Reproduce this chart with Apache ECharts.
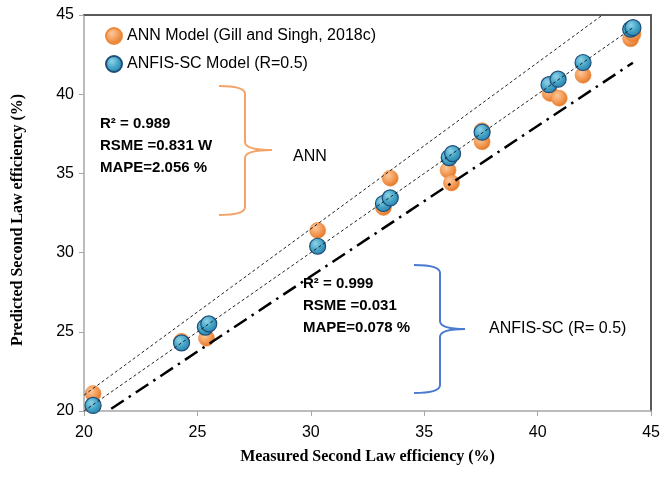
<!DOCTYPE html>
<html>
<head>
<meta charset="utf-8">
<script src="https://cdn.jsdelivr.net/npm/echarts@6/dist/echarts.min.js"></script>
<style>html,body{margin:0;padding:0;background:#fff}#c{width:663px;height:494px}</style>
</head>
<body>
<div id="c"></div>
<script>
// ---- data ----
const annMeasured  = [20.4, 24.3, 25.4, 30.3, 33.2, 33.5, 36.05, 36.2, 37.55, 37.55, 40.55, 40.95, 42.0, 44.1, 44.2];
const annPredicted = [21.1, 24.4, 24.6, 31.4, 32.85, 34.7, 35.2, 34.4, 37.0, 37.7, 40.05, 39.75, 41.2, 43.5, 43.8];
const anfisMeasured  = [20.4, 24.3, 25.35, 25.5, 30.3, 33.2, 33.5, 36.1, 36.25, 37.55, 40.5, 40.9, 42.0, 44.1, 44.2];
const anfisPredicted = [20.35, 24.3, 25.3, 25.5, 30.4, 33.1, 33.45, 36.0, 36.25, 37.6, 40.6, 40.95, 42.0, 44.1, 44.2];
const idealLine = [[20, 20], [44.2, 44.2]];
const upperLine = [[20, 21], [42.857, 45]];
const lowerLine = [[21.2, 20.14], [44.2, 41.99]];
const xTicks = [20, 25, 30, 35, 40, 45];
const yTicks = [20, 25, 30, 35, 40, 45];
const seriesNames = ['ANN Model (Gill and Singh, 2018c)', 'ANFIS-SC Model (R=0.5)'];

const zip = (a, b) => a.map((v, i) => [v, b[i]]);
const chart = echarts.init(document.getElementById('c'));

const orangeFill = {type:'radial', x:0.38, y:0.35, r:0.7, colorStops:[{offset:0,color:'#fbc89c'},{offset:0.55,color:'#f39a55'},{offset:1,color:'#e0721f'}]};
const blueFill = {type:'radial', x:0.38, y:0.35, r:0.7, colorStops:[{offset:0,color:'#8fd3e8'},{offset:0.55,color:'#42a3c6'},{offset:1,color:'#2a7ea8'}]};

function brace(x0, xv, tip, y0, ym, y1, c, color) {
  const st = {stroke: color, lineWidth: 2, fill: null};
  return {
    type: 'group', z: 100,
    children: [
      {type:'bezierCurve', shape:{x1:x0, y1:y0, x2:xv, y2:y0+c, cpx1:xv, cpy1:y0}, style:st},
      {type:'line', shape:{x1:xv, y1:y0+c, x2:xv, y2:ym-c}, style:st},
      {type:'bezierCurve', shape:{x1:xv, y1:ym-c, x2:tip, y2:ym, cpx1:xv, cpy1:ym}, style:st},
      {type:'bezierCurve', shape:{x1:tip, y1:ym, x2:xv, y2:ym+c, cpx1:xv, cpy1:ym}, style:st},
      {type:'line', shape:{x1:xv, y1:ym+c, x2:xv, y2:y1-c}, style:st},
      {type:'bezierCurve', shape:{x1:xv, y1:y1-c, x2:x0, y2:y1, cpx1:xv, cpy1:y1}, style:st}
    ]
  };
}
const sans = '"Liberation Sans", Arial, sans-serif';
function txt(t, x, y, bold, size) {
  return {type:'text', x:x, y:y, z:100, style:{text:t, font:(bold?'bold ':'') + size + 'px ' + sans, fill:'#000', verticalAlign:'middle', align:'left'}};
}

chart.setOption({
  animation: false,
  backgroundColor: '#fff',
  grid: {left: 84, right: 9, top: 15, bottom: 83},
  legend: {
    data: seriesNames, orient: 'vertical', left: 100, top: 22, itemGap: 10,
    itemWidth: 16, itemHeight: 16, icon: 'circle',
    textStyle: {fontFamily: sans, fontSize: 16, color: '#000'}
  },
  xAxis: [{
    type: 'value', min: xTicks[0], max: xTicks[xTicks.length-1], interval: 5,
    name: 'Measured Second Law efficiency (%)', nameLocation: 'middle', nameGap: 38,
    nameTextStyle: {fontFamily: '"Liberation Serif", serif', fontWeight: 'bold', fontSize: 16, color: '#000'},
    axisLine: {show: true, lineStyle: {color: '#a6a6a6', width: 1.5}},
    axisTick: {show: true, length: 5, lineStyle: {color: '#a6a6a6'}},
    axisLabel: {fontFamily: sans, fontSize: 16, color: '#000', margin: 14},
    splitLine: {show: false}
  }, {
    type: 'value', position: 'top', min: 20, max: 45,
    axisLine: {show: true, onZero: false, lineStyle: {color: '#595959', width: 2}},
    axisTick: {show: false}, axisLabel: {show: false}, splitLine: {show: false}
  }],
  yAxis: [{
    type: 'value', min: yTicks[0], max: yTicks[yTicks.length-1], interval: 5,
    name: 'Predicted Second Law efficiency (%)', nameLocation: 'middle', nameGap: 58,
    nameTextStyle: {fontFamily: '"Liberation Serif", serif', fontWeight: 'bold', fontSize: 16, color: '#000', padding: [0, 14, 0, 0]},
    axisLine: {show: true, lineStyle: {color: '#a6a6a6', width: 1.5}},
    axisTick: {show: true, length: 5, lineStyle: {color: '#a6a6a6'}},
    axisLabel: {fontFamily: sans, fontSize: 16, color: '#000', margin: 10},
    splitLine: {show: false}
  }, {
    type: 'value', position: 'right', min: 20, max: 45,
    axisLine: {show: true, onZero: false, lineStyle: {color: '#595959', width: 2}},
    axisTick: {show: false}, axisLabel: {show: false}, splitLine: {show: false}
  }],
  series: [
    {name: seriesNames[0], type: 'scatter', data: zip(annMeasured, annPredicted), symbolSize: 16, z: 3,
     itemStyle: {color: orangeFill, borderColor: '#ee8a3e', borderWidth: 0.6, opacity: 1}},
    {name: seriesNames[1], type: 'scatter', data: zip(anfisMeasured, anfisPredicted), symbolSize: 16, z: 4,
     itemStyle: {color: blueFill, borderColor: '#1f4e79', borderWidth: 1.2, opacity: 1}},
    {type: 'line', data: idealLine, showSymbol: false, z: 5, silent: true,
     lineStyle: {color: '#222', width: 1, type: [3, 2.5]}},
    {type: 'line', data: upperLine, showSymbol: false, z: 5, silent: true,
     lineStyle: {color: '#222', width: 1, type: [3, 2.5]}},
    {type: 'line', data: lowerLine, showSymbol: false, z: 5, silent: true,
     lineStyle: {color: '#000', width: 2.5, type: [15, 6, 2.5, 6]}}
  ],
  graphic: [
    brace(219, 245, 272, 86, 150, 215, 8, '#f4a468'),
    brace(414, 440, 465, 265, 329, 393, 8, '#4a7bd0'),
    txt('R² = 0.989', 100, 124, true, 15),
    txt('RSME =0.831 W', 100, 146, true, 15),
    txt('MAPE=2.056 %', 100, 168, true, 15),
    txt('ANN', 293, 157, false, 16),
    txt('R² = 0.999', 303, 284, true, 15),
    txt('RSME =0.031', 303, 306, true, 15),
    txt('MAPE=0.078 %', 303, 328, true, 15),
    txt('ANFIS-SC (R= 0.5)', 489, 329, false, 16)
  ]
});
</script>
</body>
</html>
